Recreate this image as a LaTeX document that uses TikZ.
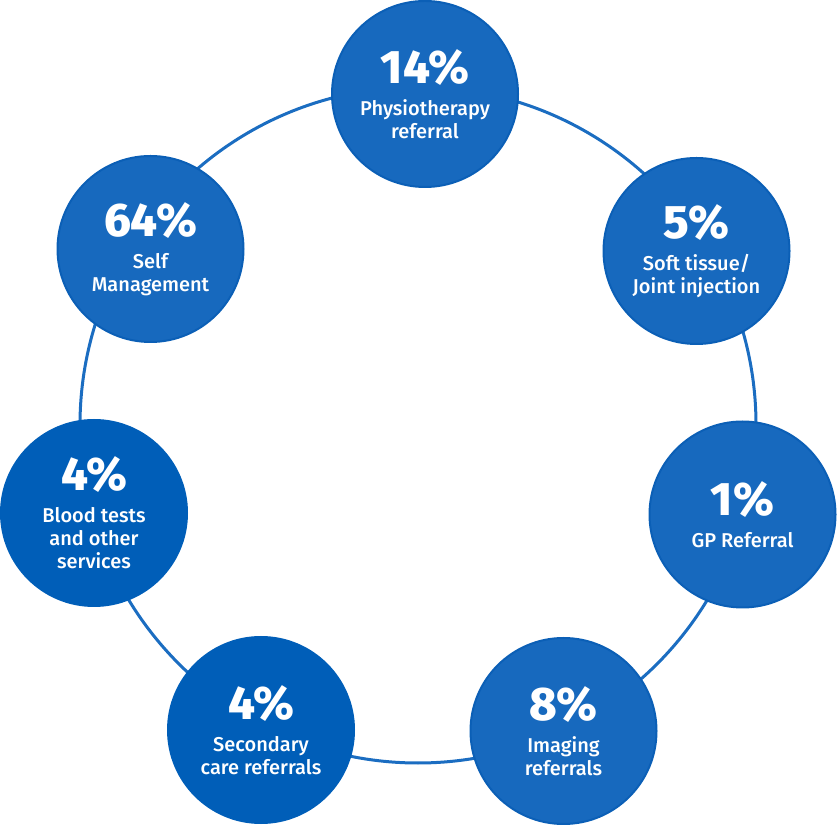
\documentclass[tikz,border=0pt]{standalone}
\usepackage{fontspec}
\setmainfont{Fira Sans}
\newfontfamily\labelfont{Fira Sans Medium}

\definecolor{ringblue}{HTML}{1B6DC1}
\definecolor{lightblue}{HTML}{1769BE}
\definecolor{darkblue}{HTML}{005EB8}
\definecolor{edgeblue}{HTML}{0B5FB6}

\newcommand{\pct}[1]{{\bfseries\fontsize{47}{47}\selectfont #1\%}}

\begin{document}
\begin{tikzpicture}[
	x=1pt,
	y=1pt,
	ring/.style={
		circle,
		draw=ringblue,
		line width=3pt,
		inner sep=0pt,
		minimum size=676pt
	},
	share/.style={
		circle,
		draw=edgeblue,
		line width=2pt,
		fill=lightblue,
		text=white,
		align=center,
		inner sep=0pt,
		minimum size=186pt,
		font=\labelfont\fontsize{20}{23}\selectfont
	},
	sharedark/.style={
		share,
		draw=darkblue,
		fill=darkblue
	},
]

\useasboundingbox (0,0) rectangle (837,824);

\node[ring] (loop) at (418,399) {};

\node[share] (physio) at (425,730) {\pct{14}\\[9pt]Physiotherapy\\referral};
\node[share] (inject) at (696.5,573) {\pct{5}\\[9pt]Soft tissue/\\Joint injection};
\node[share] (gp) at (742.5,309.5) {\pct{1}\\[9pt]GP Referral};
\node[share] (imaging) at (563.5,93) {\pct{8}\\[9pt]Imaging\\referrals};
\node[sharedark] (secondary) at (261,94) {\pct{4}\\[9pt]Secondary\\care referrals};
\node[sharedark] (blood) at (94,311) {\pct{4}\\[9pt]Blood tests\\and other\\services};
\node[share] (self) at (150.5,575) {\pct{64}\\[9pt]Self\\Management};

\end{tikzpicture}
\end{document}
